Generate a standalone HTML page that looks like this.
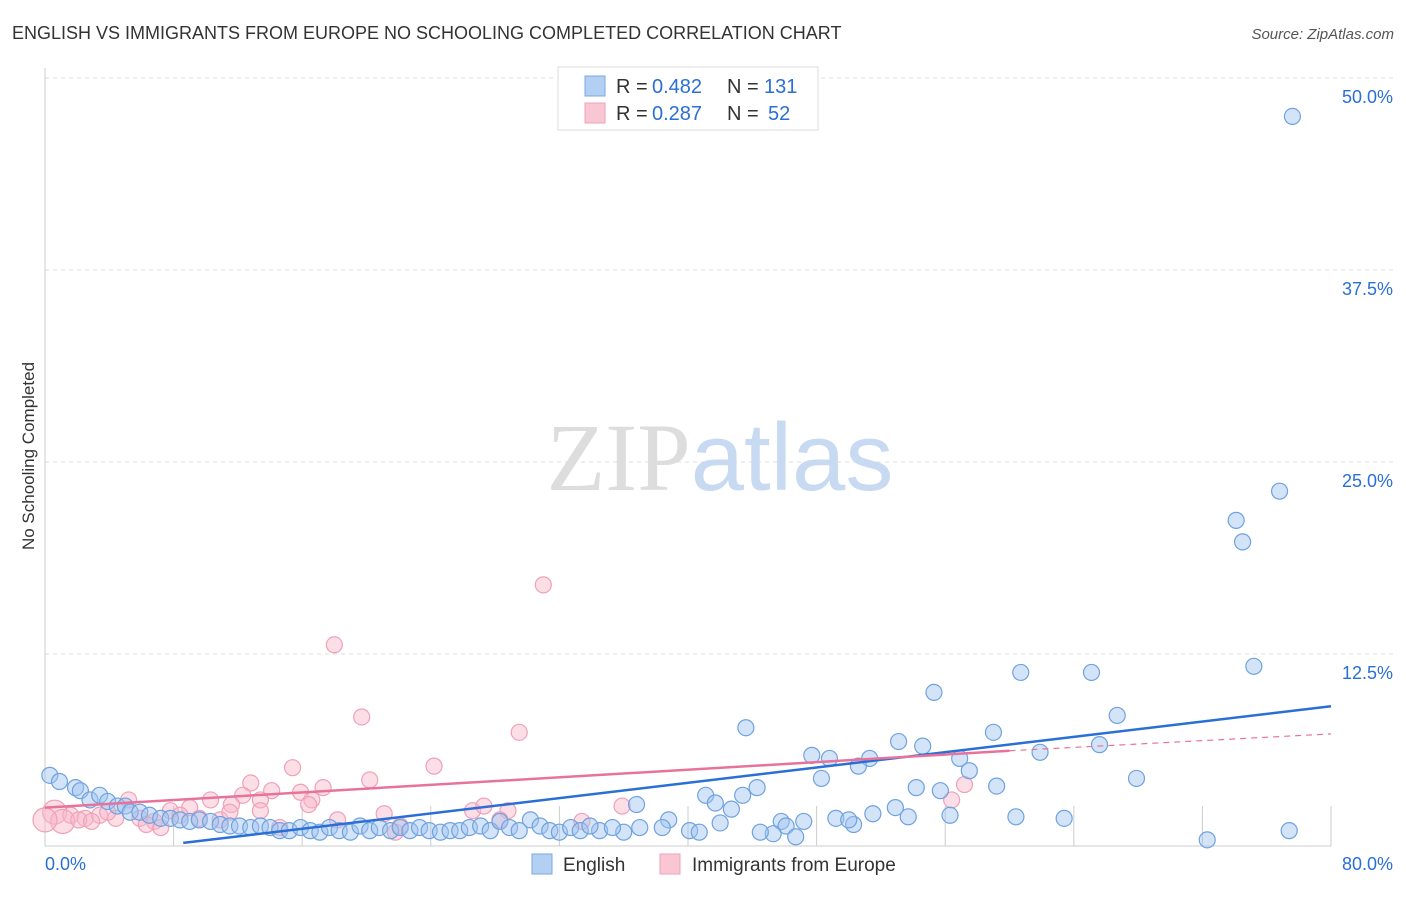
<!DOCTYPE html>
<html><head><meta charset="utf-8"><style>
body{margin:0;background:#fff;font-family:"Liberation Sans",sans-serif}
svg text{font-family:"Liberation Sans",sans-serif}
</style></head><body>
<svg id="chart" width="1406" height="892" xmlns="http://www.w3.org/2000/svg">
<text x="12" y="39" font-size="18" fill="#333">ENGLISH VS IMMIGRANTS FROM EUROPE NO SCHOOLING COMPLETED CORRELATION CHART</text>
<text x="1394" y="39" font-size="15" fill="#555" text-anchor="end" font-style="italic">Source: ZipAtlas.com</text>
<text transform="translate(34,456) rotate(-90)" font-size="17" fill="#333" text-anchor="middle">No Schooling Completed</text>
<g id="grid"></g>
<text x="720" y="490" font-size="96" text-anchor="middle"><tspan fill="#ddd" font-family="Liberation Serif">ZIP</tspan><tspan fill="#c8daf2">atlas</tspan></text>
<g id="pts"></g>
<g id="lines"></g>
<g>
<rect x="558" y="67" width="260" height="63" fill="#fff" stroke="#ddd"/>
<rect x="585" y="76" width="20" height="20" fill="#b3cff3" stroke="#7aaae0"/>
<rect x="585" y="103" width="20" height="20" fill="#f9c6d4" stroke="#f0a0b8"/>
<text x="616" y="93" font-size="20" fill="#333">R =</text>
<text x="652" y="93" font-size="20" fill="#2a6fd6">0.482</text>
<text x="727" y="93" font-size="20" fill="#333">N =</text>
<text x="764" y="93" font-size="20" fill="#2a6fd6">131</text>
<text x="616" y="120" font-size="20" fill="#333">R =</text>
<text x="652" y="120" font-size="20" fill="#2a6fd6">0.287</text>
<text x="727" y="120" font-size="20" fill="#333">N =</text>
<text x="768" y="120" font-size="20" fill="#2a6fd6">52</text>
</g>
<g>
<rect x="532" y="854" width="20" height="20" fill="#b3cff3" stroke="#7aaae0"/>
<text x="563" y="871" font-size="19" fill="#333">English</text>
<rect x="660" y="854" width="20" height="20" fill="#f9c6d4" stroke="#f0a0b8"/>
<text x="692" y="871" font-size="19" fill="#333">Immigrants from Europe</text>
</g>
</svg>
<script>
const yTicks=[12.5,25.0,37.5,50.0];
const xTickLabels=["0.0%","80.0%"];
const englishX=[77.6,76.8,74.1,74.5,75.2,60.7,65.1,55.3,66.7,43.6,59.0,53.1,54.6,65.6,47.7,48.8,51.3,61.9,56.9,50.6,57.5,48.3,67.9,54.2,59.2,55.7,44.3,43.4,41.1,41.7,42.7,36.8,52.9,51.5,53.7,56.3,60.4,63.4,49.2,50.3,50.0,45.8,46.1,47.2,45.3,44.5,38.8,38.4,40.1,40.7,72.3,77.4,46.7,42.0,37.0,36.0,34.5,35.3,0.3,0.9,1.9,2.2,2.8,3.4,3.9,4.5,5.0,5.3,5.9,6.5,7.2,7.8,8.4,9.0,9.6,10.3,10.9,11.5,12.1,12.8,13.4,14.0,14.6,15.2,15.9,16.5,17.1,17.7,18.3,19.0,19.6,20.2,20.8,21.5,22.1,22.7,23.3,23.9,24.6,25.2,25.8,26.4,27.1,27.7,28.3,28.9,29.5,30.2,30.8,31.4,32.0,32.7,33.3,33.9];
const englishY=[47.5,23.1,21.2,19.8,11.7,11.3,11.3,10.0,8.5,7.7,7.4,6.8,6.5,6.6,5.9,5.7,5.7,6.1,5.7,5.2,4.9,4.4,4.4,3.8,3.9,3.6,3.8,3.3,3.3,2.8,2.4,2.7,2.5,2.1,1.9,2.0,1.9,1.8,1.8,1.4,1.7,1.6,1.3,1.6,0.8,0.9,1.7,1.2,1.0,0.9,0.4,1.0,0.6,1.5,1.2,0.9,1.0,1.2,4.6,4.2,3.8,3.6,3.0,3.3,2.9,2.6,2.6,2.2,2.2,2.0,1.8,1.8,1.7,1.6,1.7,1.6,1.4,1.3,1.3,1.2,1.3,1.2,1.0,1.0,1.2,1.0,0.9,1.2,1.0,0.9,1.3,1.0,1.2,1.0,1.2,1.0,1.2,1.0,0.9,1.0,1.0,1.2,1.3,1.0,1.6,1.2,1.0,1.7,1.3,1.0,0.9,1.2,1.0,1.3];
const immX=[31.0,18.0,19.7,29.5,24.2,15.4,12.8,20.2,17.3,14.1,15.9,57.2,12.3,16.6,13.4,10.3,5.2,16.4,11.6,56.4,35.9,26.6,27.3,28.8,9.0,7.8,21.1,18.2,28.3,33.4,0.6,1.6,2.5,3.4,4.4,5.9,6.8,1.1,2.1,9.6,10.9,21.8,22.1,3.9,6.3,8.4,11.5,13.4,0.0,2.9,7.2,14.6];
const immY=[17.0,13.1,8.4,7.4,5.2,5.1,4.1,4.3,3.8,3.6,3.5,4.0,3.3,3.0,3.0,3.0,3.0,2.7,2.7,3.0,2.6,2.3,2.6,2.3,2.5,2.3,2.1,1.7,1.7,1.6,2.2,2.0,1.8,2.0,1.8,1.8,1.6,1.6,1.7,1.8,1.7,0.9,1.3,2.2,1.4,2.0,2.2,2.3,1.7,1.6,1.2,1.2];
const englishTrend=[[8.6,0.2],[80,9.1]];
const immTrend=[[0,2.5],[60,6.2],[80,7.3]];
const X0=45,X1=1331,Y0=846,Y1=78;
const xs=v=>X0+(v/80)*(X1-X0);
const ys=v=>Y0-(v/50)*(Y0-Y1);
const NS="http://www.w3.org/2000/svg";
function mk(t,a,p){const e=document.createElementNS(NS,t);for(const k in a)e.setAttribute(k,a[k]);p.appendChild(e);return e;}
const grid=document.getElementById('grid');
yTicks.forEach(t=>{
 const l=mk('line',{x1:X0,x2:1393,y1:ys(t),y2:ys(t),stroke:'#ddd','stroke-dasharray':'4,4'},grid);
 
 
 const tx=mk('text',{x:1393,y:ys(t)+25,'font-size':18,fill:'#2a6fd6','text-anchor':'end'},grid);
 tx.textContent=t.toFixed(1)+'%';
 
 
});
const ax=mk('line',{x1:X0,x2:X1,y1:Y0,y2:Y0,stroke:'#ccc'},grid);


const ay=mk('line',{x1:X0,x2:X0,y1:68,y2:Y0,stroke:'#ccc'},grid);


for(let i=1;i<=10;i++){const t=mk('line',{x1:xs(i*8),x2:xs(i*8),y1:Y0,y2:Y0-40,stroke:'#ccc'},grid);
 
 }
const xl0=mk('text',{x:45,y:870,'font-size':18,fill:'#2a6fd6'},grid);xl0.textContent=xTickLabels[0];


const xl1=mk('text',{x:1393,y:870,'font-size':18,fill:'#2a6fd6','text-anchor':'end'},grid);xl1.textContent=xTickLabels[1];


const pts=document.getElementById('pts');
immX.forEach((x,i)=>{const r=(x<1.2&&immY[i]>1.5)?12:8;
 const c=mk('circle',{cx:xs(x),cy:ys(immY[i]),r:r,fill:'rgba(248,182,202,0.45)',stroke:'#f0a0b8','stroke-width':1.2},pts);
 
 });
englishX.forEach((x,i)=>{
 const c=mk('circle',{cx:xs(x),cy:ys(englishY[i]),r:8,fill:'rgba(160,196,240,0.45)',stroke:'#6fa2df','stroke-width':1.2},pts);
 
 });
const lg=document.getElementById('lines');
const bl=mk('line',{x1:xs(englishTrend[0][0]),y1:ys(englishTrend[0][1]),x2:xs(englishTrend[1][0]),y2:ys(englishTrend[1][1]),stroke:'#2a6fd6','stroke-width':2.5},lg);


const pl=mk('line',{x1:xs(immTrend[0][0]),y1:ys(immTrend[0][1]),x2:xs(immTrend[1][0]),y2:ys(immTrend[1][1]),stroke:'#e8739a','stroke-width':2.5},lg);


const pd=mk('line',{x1:xs(immTrend[1][0]),y1:ys(immTrend[1][1]),x2:xs(immTrend[2][0]),y2:ys(immTrend[2][1]),stroke:'#e8739a','stroke-width':1.2,'stroke-dasharray':'6,5'},lg);


</script>
</body></html>
